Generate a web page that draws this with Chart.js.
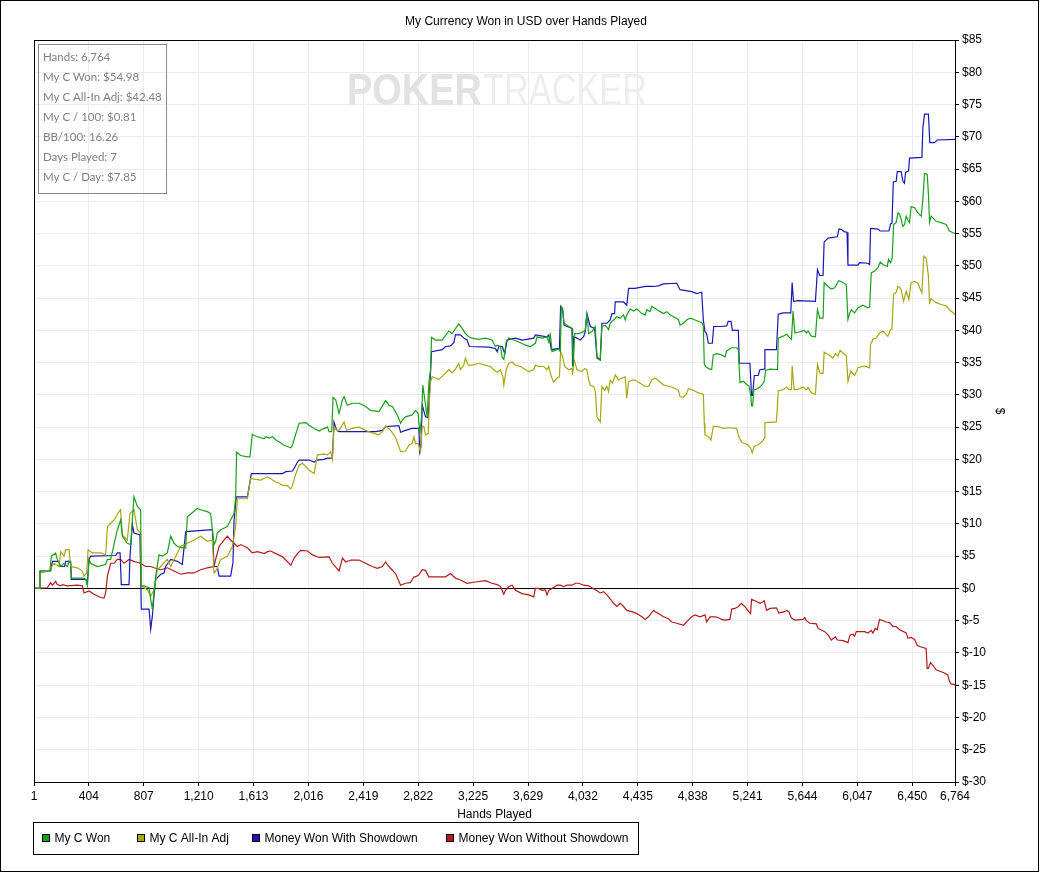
<!DOCTYPE html>
<html>
<head>
<meta charset="utf-8">
<title>My Currency Won in USD over Hands Played</title>
<script src="https://cdn.jsdelivr.net/npm/chart.js@4.4.1/dist/chart.umd.min.js"></script>
<style>
  html, body { margin: 0; padding: 0; background: #fff; }
  canvas { display: block; }
</style>
</head>
<body>
<canvas id="chart" width="1040" height="873"></canvas>
<script>
// [hand, dollars] pairs
const myCWon = [
  [1,0],[38,0],[45,2.7],[118,2.7],[128,5.0],[160,5.5],[172,4.5],[197,3.4],[221,3.9],[246,3.4],[258,4.2],[270,3.9],
  [275,1.6],[368,1.6],[380,1.4],[393,0.4],[405,4.5],[417,3.9],[466,3.4],[527,3.7],[540,4.5],[564,4.5],[613,9.1],
  [637,10.6],[650,8.1],[686,7.0],[711,6.8],[735,14.2],[760,12.7],[784,12.2],[789,0.4],[809,0.4],[846,0.1],[858,-1.7],
  [870,-3.2],[882,-0.7],[895,1.9],[919,5.2],[943,5.0],[980,5.5],[1005,8.1],[1029,7.0],[1054,6.5],[1090,6.3],[1115,6.3],
  [1127,11.1],[1200,12.4],[1225,12.2],[1274,11.9],[1298,11.6],[1323,6.8],[1335,7.3],[1347,8.6],[1372,9.1],[1421,9.6],
  [1445,10.6],[1470,11.6],[1482,14.2],[1489,21.1],[1519,20.6],[1568,20.4],[1587,20.4],[1604,23.9],[1617,23.7],
  [1690,23.2],[1704,23.5],[1728,23.3],[1753,23.5],[1777,23.0],[1802,22.7],[1838,22.2],[1887,21.8],[1899,22.2],
  [1924,24.0],[1948,25.6],[1997,25.7],[2021,25.3],[2058,24.8],[2095,24.4],[2119,24.7],[2156,25.0],[2168,24.3],
  [2187,24.3],[2197,29.6],[2217,29.2],[2241,27.1],[2266,29.2],[2278,29.7],[2302,28.4],[2339,28.7],[2388,28.7],
  [2436,28.2],[2473,27.6],[2534,27.4],[2583,29.1],[2607,28.4],[2632,28.2],[2668,26.9],[2693,25.6],[2705,26.1],
  [2729,26.6],[2778,26.9],[2803,27.6],[2822,27.1],[2834,24.0],[2847,26.6],[2856,31.5],[2871,29.2],[2888,26.6],
  [2900,31.8],[2913,33.9],[2920,38.9],[2949,38.5],[2998,38.5],[3047,39.9],[3071,39.5],[3120,41.0],[3145,40.3],
  [3169,39.5],[3193,39.0],[3218,38.8],[3267,38.6],[3316,38.8],[3364,38.5],[3389,37.5],[3402,37.7],[3426,37.5],
  [3439,35.8],[3451,35.5],[3468,38.2],[3488,38.8],[3524,38.5],[3561,38.2],[3610,37.7],[3646,37.5],[3683,38.0],
  [3695,39.0],[3732,38.8],[3768,39.0],[3781,38.2],[3793,39.3],[3805,36.7],[3854,37.1],[3866,36.7],[3873,43.7],
  [3883,43.4],[3893,41.1],[3915,40.8],[3952,40.3],[3961,34.4],[3971,39.5],[4000,39.5],[4037,39.8],[4049,40.1],
  [4061,42.6],[4074,39.5],[4098,39.8],[4122,40.6],[4135,35.9],[4159,35.4],[4171,40.6],[4196,40.8],[4220,40.1],
  [4232,41.1],[4257,41.6],[4281,42.1],[4306,41.9],[4330,42.4],[4342,41.6],[4354,42.4],[4379,43.3],[4403,43.0],
  [4428,43.3],[4464,42.6],[4489,42.4],[4501,43.2],[4525,42.9],[4538,43.7],[4562,43.4],[4599,42.9],[4623,42.6],
  [4648,42.9],[4672,42.4],[4696,42.1],[4733,41.7],[4745,40.8],[4770,41.1],[4794,41.6],[4818,41.9],[4855,41.6],
  [4892,41.3],[4909,41.1],[4916,40.6],[4923,34.8],[4933,34.4],[4953,34.1],[4977,33.9],[4989,36.2],[5014,36.4],
  [5050,36.2],[5075,35.9],[5087,36.8],[5124,37.3],[5160,37.3],[5173,37.0],[5185,31.9],[5209,32.1],[5234,31.6],
  [5251,31.4],[5265,29.8],[5270,28.3],[5278,28.3],[5287,30.8],[5307,30.9],[5331,31.2],[5348,31.6],[5363,32.1],
  [5373,33.8],[5405,34.0],[5461,33.9],[5466,38.8],[5502,39.1],[5527,39.4],[5544,39.0],[5563,38.6],[5575,43.0],
  [5588,39.6],[5612,39.7],[5656,40.0],[5673,39.6],[5685,39.9],[5710,39.1],[5739,39.0],[5754,43.2],[5771,41.9],
  [5795,41.9],[5803,47.4],[5832,46.8],[5856,46.4],[5881,46.6],[5910,47.7],[5934,47.5],[5966,47.1],[5978,41.7],
  [5991,42.7],[6003,43.2],[6027,42.7],[6052,43.5],[6088,43.9],[6125,43.5],[6137,43.6],[6149,48.9],[6174,49.2],
  [6198,49.7],[6215,50.6],[6235,50.2],[6267,49.9],[6276,51.0],[6291,50.5],[6303,51.2],[6313,56.4],[6332,56.7],
  [6345,58.2],[6357,58.0],[6369,57.2],[6381,56.1],[6393,56.4],[6406,57.7],[6418,57.1],[6430,56.7],[6442,59.2],
  [6467,59.0],[6491,58.2],[6516,57.7],[6528,60.3],[6540,64.3],[6560,64.2],[6569,61.1],[6577,56.7],[6589,57.7],
  [6625,56.9],[6662,56.7],[6699,56.4],[6723,55.4],[6764,55.0]
];

const myCAllInAdj = [
  [1,0],[38,0],[45,2.4],[111,2.7],[148,3.9],[185,3.4],[197,5.7],[221,5.0],[234,6.0],[258,6.0],[270,3.4],[319,3.2],
  [356,2.7],[368,1.9],[388,2.4],[398,6.0],[429,5.5],[491,5.5],[527,5.2],[540,9.6],[589,10.6],[625,11.9],[637,12.2],
  [650,8.3],[686,7.5],[706,11.6],[735,12.2],[760,9.1],[784,8.6],[789,0.4],[833,-0.2],[858,-1.2],[882,-0.2],[907,2.9],
  [931,3.4],[980,4.5],[1005,3.4],[1078,6.5],[1127,7.0],[1176,7.5],[1225,8.1],[1274,7.3],[1311,7.5],[1323,2.4],
  [1342,2.9],[1372,4.5],[1421,5.0],[1458,6.5],[1482,9.6],[1494,13.9],[1568,13.9],[1592,17.0],[1666,16.8],[1716,17.3],
  [1753,16.8],[1777,16.5],[1802,16.3],[1826,16.0],[1863,15.9],[1887,15.4],[1899,16.0],[1924,17.8],[1948,19.1],
  [1972,19.4],[1997,18.9],[2021,18.3],[2058,17.8],[2082,20.7],[2131,20.8],[2156,20.7],[2180,21.2],[2192,20.0],
  [2204,25.1],[2222,24.5],[2241,24.5],[2278,25.8],[2295,24.5],[2339,24.8],[2388,25.0],[2436,24.5],[2485,24.1],
  [2534,23.8],[2559,24.3],[2583,25.2],[2620,24.5],[2656,23.4],[2693,21.2],[2729,21.3],[2754,22.2],[2778,22.5],
  [2791,23.5],[2803,22.4],[2822,22.5],[2839,21.2],[2852,25.1],[2864,25.1],[2876,23.8],[2896,24.0],[2905,29.2],
  [2913,32.0],[2925,32.8],[2974,32.4],[3010,33.1],[3047,33.9],[3071,33.4],[3096,34.0],[3120,34.9],[3132,33.9],
  [3157,34.6],[3169,35.7],[3189,34.6],[3218,34.6],[3267,34.9],[3316,34.6],[3352,34.4],[3377,33.9],[3402,33.5],
  [3426,33.9],[3444,32.8],[3451,31.5],[3468,33.9],[3488,34.9],[3512,35.1],[3536,34.6],[3573,34.4],[3610,33.9],
  [3634,33.6],[3671,33.9],[3683,34.6],[3707,34.4],[3744,34.4],[3768,33.9],[3781,34.4],[3800,32.8],[3817,32.0],
  [3842,32.6],[3859,32.8],[3868,36.7],[3883,35.9],[3898,34.4],[3927,33.9],[3952,34.1],[3956,33.1],[3966,35.5],
  [3988,33.9],[4025,33.6],[4044,34.1],[4061,33.9],[4074,32.3],[4086,31.5],[4110,31.3],[4122,30.7],[4135,26.6],
  [4159,25.8],[4171,31.3],[4191,30.7],[4208,31.3],[4220,30.5],[4232,32.3],[4249,31.8],[4269,33.1],[4293,32.3],
  [4318,32.6],[4342,32.8],[4354,29.5],[4367,32.0],[4391,32.3],[4415,32.3],[4452,31.8],[4489,31.3],[4513,31.3],
  [4538,32.3],[4562,32.6],[4599,32.0],[4623,31.5],[4672,31.3],[4709,31.0],[4733,30.7],[4745,29.7],[4770,29.6],
  [4794,30.2],[4806,31.0],[4843,30.7],[4879,30.3],[4916,30.1],[4923,25.6],[4928,23.8],[4953,23.5],[4972,23.0],
  [4989,25.1],[5026,25.1],[5063,24.8],[5099,24.9],[5160,24.8],[5177,23.5],[5200,22.6],[5240,22.3],[5262,21.8],
  [5275,21.0],[5290,22.0],[5320,22.3],[5350,22.8],[5365,23.3],[5368,25.7],[5453,25.8],[5466,30.6],[5502,30.8],
  [5527,31.2],[5544,30.8],[5563,30.8],[5568,34.5],[5583,30.8],[5612,30.9],[5649,31.2],[5673,30.8],[5685,31.1],
  [5710,30.3],[5739,30.1],[5754,34.7],[5771,33.4],[5795,33.3],[5803,36.6],[5832,36.3],[5868,35.7],[5886,36.4],
  [5905,36.0],[5920,36.9],[5942,36.5],[5966,36.1],[5978,32.1],[5998,33.7],[6027,33.0],[6052,34.2],[6100,34.5],
  [6137,34.2],[6144,37.8],[6161,38.6],[6186,38.8],[6210,39.6],[6235,39.9],[6271,39.1],[6291,40.1],[6301,40.2],
  [6313,45.6],[6332,45.9],[6345,46.8],[6357,46.7],[6369,46.3],[6386,44.5],[6406,46.1],[6425,44.8],[6442,47.4],
  [6467,47.6],[6491,47.3],[6521,45.8],[6535,51.5],[6552,51.2],[6569,48.4],[6577,44.3],[6589,44.9],[6625,44.3],
  [6662,44.0],[6699,43.8],[6723,43.2],[6764,42.5]
];

const wonWithShowdown = [
  [1,0],[38,0],[45,2.7],[123,2.7],[136,4.2],[185,4.2],[192,3.4],[226,3.4],[234,4.2],[270,4.2],[275,1.4],[380,1.4],
  [393,1.1],[405,4.5],[417,5.0],[601,5.1],[613,5.5],[633,5.5],[642,0.6],[699,0.6],[706,5.0],[723,9.9],[735,8.6],
  [779,8.3],[789,-3.2],[846,-3.2],[858,-6.3],[870,-4.3],[882,-1.2],[895,1.4],[931,2.2],[956,2.4],[968,3.4],
  [1005,4.5],[1054,4.2],[1090,3.7],[1115,8.8],[1311,9.1],[1323,3.4],[1347,3.4],[1360,1.9],[1445,1.9],[1462,4.0],
  [1470,10.6],[1487,14.2],[1568,14.2],[1597,17.8],[1826,17.8],[1850,18.1],[1899,18.2],[1911,18.6],[1936,19.6],
  [1948,19.9],[2021,19.9],[2058,19.6],[2082,19.9],[2131,20.0],[2156,20.2],[2192,20.2],[2204,25.8],[2224,24.5],
  [2241,24.3],[2510,24.3],[2559,24.5],[2583,25.1],[2656,25.2],[2681,25.2],[2693,24.2],[2729,24.5],[2778,24.8],
  [2827,24.8],[2834,21.2],[2842,22.0],[2852,28.4],[2876,26.6],[2896,26.5],[2905,30.2],[2920,36.7],[2998,37.0],
  [3023,37.5],[3059,37.6],[3084,38.1],[3096,39.3],[3132,39.3],[3157,38.8],[3181,38.5],[3198,37.5],[3340,37.4],
  [3389,37.2],[3402,36.7],[3414,37.5],[3439,37.5],[3458,36.4],[3475,38.5],[3536,38.8],[3585,38.5],[3671,38.8],
  [3683,39.3],[3768,39.0],[3781,39.3],[3800,37.0],[3859,37.2],[3868,43.7],[3883,43.2],[3893,40.8],[3952,40.3],
  [3956,34.4],[3966,39.0],[3988,38.8],[4013,38.5],[4037,39.0],[4049,39.8],[4061,42.6],[4086,40.6],[4118,40.3],
  [4135,35.7],[4159,35.4],[4171,41.1],[4208,41.1],[4232,41.6],[4245,42.6],[4264,42.6],[4269,44.4],[4330,44.4],
  [4354,43.9],[4367,46.5],[4415,46.5],[4489,46.8],[4550,46.8],[4586,46.9],[4623,47.2],[4721,47.3],[4745,46.3],
  [4831,46.0],[4867,45.7],[4904,45.9],[4916,41.6],[4928,39.8],[4940,39.5],[4953,38.0],[4982,38.0],[4992,40.6],
  [5050,40.6],[5087,40.7],[5099,41.4],[5119,41.4],[5129,40.0],[5173,40.0],[5180,34.9],[5258,34.9],[5270,29.9],
  [5278,29.9],[5290,33.0],[5319,33.0],[5331,33.9],[5363,34.0],[5368,37.0],[5453,37.0],[5466,42.5],[5502,42.7],
  [5558,42.7],[5568,47.4],[5578,44.5],[5612,44.6],[5739,44.5],[5754,49.4],[5771,48.5],[5795,48.5],[5803,53.7],
  [5832,54.3],[5900,54.5],[5912,55.7],[5934,55.6],[5949,55.3],[5971,55.2],[5978,50.1],[6052,50.1],[6064,50.5],
  [6125,50.4],[6137,50.2],[6144,55.8],[6198,55.7],[6215,55.4],[6279,55.4],[6291,56.5],[6301,56.6],[6311,63.0],
  [6332,63.1],[6340,64.6],[6369,64.6],[6381,63.1],[6393,62.8],[6401,64.5],[6423,64.7],[6430,66.7],[6521,66.8],
  [6528,71.4],[6540,73.5],[6569,73.5],[6579,69.1],[6613,69.1],[6633,69.5],[6764,69.6]
];

const wonWithoutShowdown = [
  [1,0],[99,0.1],[123,0.9],[136,0.5],[160,1.1],[172,0.6],[197,0.4],[209,0.6],[246,0.4],[319,0.5],[356,0.4],
  [368,-0.7],[405,-0.4],[442,-0.9],[491,-1.4],[515,-1.5],[527,-0.7],[540,1.9],[564,3.9],[589,3.9],[613,4.5],
  [637,4.5],[662,3.9],[699,4.5],[735,4.2],[784,3.9],[821,3.4],[858,3.4],[882,3.2],[931,2.9],[980,3.2],[1029,2.7],
  [1078,2.2],[1127,2.4],[1176,2.4],[1225,2.9],[1274,3.2],[1323,3.4],[1335,4.5],[1360,6.5],[1396,7.5],[1421,8.1],
  [1445,7.5],[1470,7.0],[1494,6.5],[1519,6.8],[1568,6.3],[1604,5.5],[1641,5.7],[1692,5.4],[1716,5.7],[1740,5.8],
  [1777,5.4],[1826,4.9],[1887,3.6],[1911,4.7],[1936,5.4],[1960,5.9],[2009,5.8],[2046,5.2],[2095,4.8],[2168,4.9],
  [2192,3.9],[2241,2.7],[2266,4.7],[2290,4.1],[2327,4.4],[2388,4.4],[2436,3.9],[2485,3.4],[2522,3.1],[2559,3.4],
  [2583,4.1],[2607,3.4],[2656,2.3],[2693,0.5],[2729,0.8],[2766,0.9],[2791,1.8],[2803,1.8],[2827,2.1],[2852,2.9],
  [2876,2.8],[2900,1.8],[2949,1.8],[3023,1.8],[3059,2.3],[3096,1.6],[3132,1.3],[3181,0.8],[3242,1.0],[3316,1.2],
  [3364,0.8],[3402,0.6],[3426,0.3],[3451,-0.9],[3463,-0.3],[3488,0.3],[3512,0.5],[3536,-0.3],[3585,-0.8],
  [3634,-1.0],[3671,-1.3],[3683,0],[3707,0],[3732,-0.3],[3756,-0.2],[3768,-1.0],[3781,-0.3],[3805,0],[3842,0.5],
  [3866,0.5],[3890,0.3],[3915,0.5],[3952,0.5],[3976,0.8],[4000,0.8],[4037,0.5],[4074,0.4],[4122,-0.2],[4159,-0.7],
  [4183,-0.5],[4208,-1.0],[4232,-1.6],[4257,-2.3],[4281,-2.8],[4306,-2.3],[4330,-2.8],[4354,-3.4],[4391,-3.6],
  [4428,-3.9],[4464,-4.4],[4489,-4.8],[4513,-4.4],[4550,-3.4],[4562,-3.6],[4586,-3.9],[4623,-4.4],[4660,-4.7],
  [4684,-5.2],[4721,-5.4],[4770,-5.7],[4806,-4.9],[4831,-4.4],[4855,-4.1],[4892,-4.4],[4928,-4.1],[4940,-5.2],
  [4965,-4.4],[5002,-4.4],[5026,-4.5],[5050,-4.8],[5075,-4.9],[5111,-4.8],[5124,-3.2],[5148,-3.1],[5173,-2.8],
  [5197,-2.3],[5209,-2.6],[5221,-2.8],[5246,-3.5],[5263,-3.9],[5270,-1.7],[5295,-1.9],[5331,-2.3],[5351,-2.1],
  [5363,-1.9],[5380,-3.4],[5405,-3.1],[5453,-3.0],[5470,-3.8],[5514,-3.6],[5527,-3.4],[5544,-3.6],[5563,-4.6],
  [5588,-4.9],[5649,-4.8],[5661,-4.5],[5673,-5.0],[5698,-5.4],[5746,-5.5],[5759,-6.2],[5807,-6.7],[5832,-7.2],
  [5856,-8.0],[5886,-7.5],[5900,-8.0],[5942,-8.1],[5978,-8.4],[5993,-7.2],[6015,-7.1],[6027,-7.4],[6039,-6.7],
  [6100,-6.7],[6125,-6.9],[6149,-6.5],[6161,-6.9],[6179,-6.2],[6193,-6.4],[6210,-4.8],[6259,-5.2],[6284,-5.3],
  [6308,-5.9],[6332,-5.9],[6357,-6.4],[6406,-6.9],[6418,-7.7],[6442,-7.6],[6467,-7.9],[6486,-8.8],[6503,-9.0],
  [6552,-9.3],[6560,-12.4],[6569,-12.4],[6584,-11.5],[6601,-11.9],[6625,-12.6],[6686,-13.1],[6711,-13.4],
  [6723,-14.4],[6735,-14.8],[6764,-14.9]
];

const handTicks = [1, 404, 807, 1210, 1613, 2016, 2419, 2822, 3225, 3629, 4032, 4435, 4838, 5241, 5644, 6047, 6450, 6764];

const statLines = [
  'Hands: 6,764',
  'My C Won: $54.98',
  'My C All-In Adj: $42.48',
  'My C / 100: $0.81',
  'BB/100: 16.26',
  'Days Played: 7',
  'My C / Day: $7.85'
];

const seriesLabels = ['My C Won', 'My C All-In Adj', 'Money Won With Showdown', 'Money Won Without Showdown'];
const seriesColors = ['#1b9f1b', '#a8a612', '#1818b2', '#b21a1a'];
const seriesData = [myCWon, myCAllInAdj, wonWithShowdown, wonWithoutShowdown];

// legend swatch positions (px) as laid out in the original
const legendSlots = [42, 137, 252, 446];

const FONT = '"Liberation Sans", Arial, sans-serif';
Chart.defaults.font.family = FONT;
Chart.defaults.font.size = 12;
Chart.defaults.color = '#000';

// title, watermark, stats box, boxed legend, frames
const decorations = {
  id: 'decorations',
  beforeDatasetsDraw(chart) {
    const c = chart.ctx;
    c.save();
    c.textBaseline = 'alphabetic';
    c.textAlign = 'left';
    c.font = 'bold 44px ' + FONT;
    const w1 = c.measureText('POKER').width;
    c.translate(347, 105);
    c.scale(135 / w1, 1);
    c.fillStyle = '#e2e2e2';
    c.fillText('POKER', 0, 0);
    c.restore();
    c.save();
    c.font = '44px ' + FONT;
    const w2 = c.measureText('TRACKER').width;
    c.translate(483, 105);
    c.scale(164 / w2, 1);
    c.fillStyle = '#eeeeee';
    c.fillText('TRACKER', 0, 0);
    c.restore();
  },
  afterDatasetsDraw(chart) {
    const c = chart.ctx;
    const a = chart.chartArea;
    c.save();
    c.strokeStyle = '#000';
    c.lineWidth = 1;
    c.strokeRect(Math.round(a.left) + 0.5, Math.round(a.top) + 0.5,
      Math.round(a.right - a.left), Math.round(a.bottom - a.top));
    c.restore();
  },
  afterDraw(chart) {
    const c = chart.ctx;
    c.save();
    // title
    c.fillStyle = '#000';
    c.font = '12px ' + FONT;
    c.textAlign = 'center';
    c.textBaseline = 'middle';
    c.fillText('My Currency Won in USD over Hands Played', 526, 22);

    // stats box
    c.strokeStyle = '#8a8a8a';
    c.lineWidth = 1;
    c.strokeRect(38.5, 44.5, 128, 149);
    c.fillStyle = '#808080';
    c.font = '11.5px Lato, "Open Sans", sans-serif';
    c.textAlign = 'left';
    statLines.forEach((t, i) => c.fillText(t, 43, 57 + i * 20));

    // legend
    c.font = '12px ' + FONT;
    c.strokeStyle = '#000';
    c.strokeRect(33.5, 822.5, 605, 32);
    seriesLabels.forEach((label, i) => {
      const x = legendSlots[i];
      c.fillStyle = seriesColors[i];
      c.fillRect(x, 834, 8, 8);
      c.strokeRect(x + 0.5, 834.5, 7, 7);
      c.fillStyle = '#000';
      c.fillText(label, x + 12.5, 838.5);
    });

    // outer frame
    c.strokeRect(0.5, 0.5, 1038, 871);
    c.restore();
  }
};

const ctx = document.getElementById('chart').getContext('2d');
const chart = new Chart(ctx, {
  type: 'line',
  data: {
    datasets: seriesData.map((pts, i) => ({
      label: seriesLabels[i],
      data: pts.map(([h, v]) => ({ x: h, y: v })),
      borderColor: seriesColors[i],
      backgroundColor: seriesColors[i],
      borderWidth: 1.2,
      pointRadius: 0,
      tension: 0,
      fill: false
    }))
  },
  options: {
    responsive: false,
    animation: false,
    devicePixelRatio: 1,
    events: [],
    layout: { padding: { left: 34, top: 40, right: 0, bottom: 0 } },
    plugins: {
      legend: { display: false },
      title: { display: false },
      tooltip: { enabled: false }
    },
    scales: {
      x: {
        type: 'linear',
        min: 1,
        max: 6764,
        afterBuildTicks: s => { s.ticks = handTicks.map(v => ({ value: v })); },
        afterFit: s => { s.height = 91; },
        ticks: {
          autoSkip: false,
          maxRotation: 0,
          padding: 3,
          color: '#000',
          callback: v => Number(v).toLocaleString('en-US')
        },
        grid: { color: '#ececec', tickColor: '#000', tickLength: 4, lineWidth: 1 },
        border: { display: true, color: '#000' },
        title: { display: true, text: 'Hands Played', color: '#000', padding: { top: 0, bottom: 51 } }
      },
      y: {
        position: 'right',
        min: -30,
        max: 85,
        afterFit: s => { s.width = 85; },
        ticks: {
          stepSize: 5,
          padding: 3,
          color: '#000',
          callback: v => '$' + v
        },
        grid: {
          color: c => (c.tick && c.tick.value === 0 ? '#000' : '#ececec'),
          tickColor: '#000',
          tickLength: 4,
          lineWidth: 1
        },
        border: { display: true, color: '#000' },
        title: { display: true, text: '$', color: '#000', padding: { top: 33, bottom: 0 } }
      }
    }
  },
  plugins: [decorations]
});
</script>
</body>
</html>
